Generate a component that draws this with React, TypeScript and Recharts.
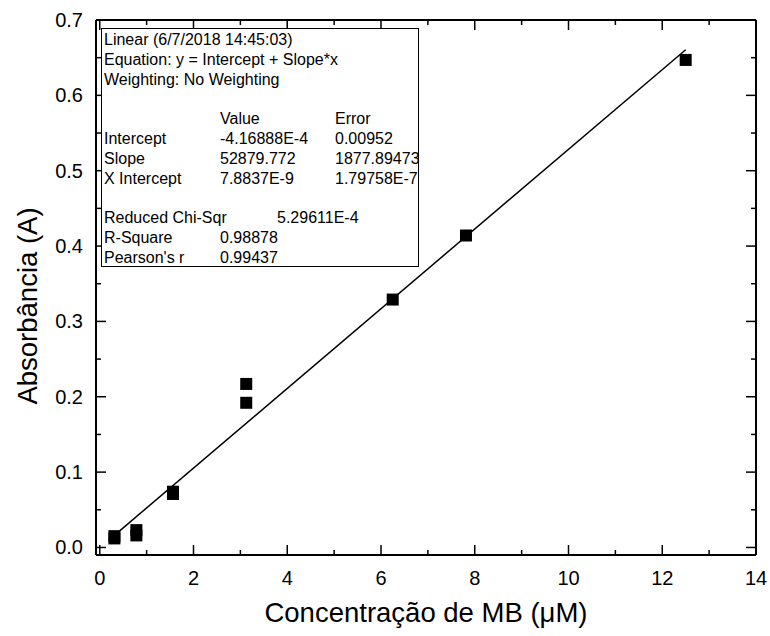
import { ScatterChart, Scatter, XAxis, YAxis, ReferenceLine } from "recharts";

// calibration points: MB concentration (µM) vs absorbance (A)
const concentrations = [0.3125, 0.3125, 0.78125, 0.78125, 1.5625, 1.5625, 3.125, 3.125, 6.25, 7.8125, 12.5];
const absorbances = [0.012, 0.015, 0.016, 0.023, 0.071, 0.074, 0.192, 0.217, 0.329, 0.414, 0.647];

// linear fit reported by the fit table (slope is per M, axis is in µM)
const fitIntercept = -4.16888e-4;
const fitSlopePerM = 52879.772;
const fitRange = [0.3125, 12.5];

const xTicks = [0, 1, 2, 3, 4, 5, 6, 7, 8, 9, 10, 11, 12, 13, 14];
const yTicks = [0, 0.05, 0.1, 0.15, 0.2, 0.25, 0.3, 0.35, 0.4, 0.45, 0.5, 0.55, 0.6, 0.65, 0.7];

const fitHeader = ["Linear (6/7/2018 14:45:03)", "Equation: y = Intercept + Slope*x", "Weighting: No Weighting"];
const fitParams = [
  ["", "Value", "Error"],
  ["Intercept", "-4.16888E-4", "0.00952"],
  ["Slope", "52879.772", "1877.89473"],
  ["X Intercept", "7.8837E-9", "1.79758E-7"],
];
const fitStats = [
  ["Reduced Chi-Sqr", "", "5.29611E-4"],
  ["R-Square", "0.98878", ""],
  ["Pearson's r", "0.99437", ""],
];

const points = concentrations.map((x, i) => ({ x, y: absorbances[i] }));
const fitLine = fitRange.map((x) => ({ x, y: fitIntercept + fitSlopePerM * 1e-6 * x }));

const FONT = "'Liberation Sans', Arial, sans-serif";
const PLOT_W = 660;
const PLOT_H = 535;

function XTick({ x, y, payload }: any) {
  const major = payload.value % 2 === 0;
  const len = major ? 10 : 5;
  return (
    <g>
      <line x1={x} y1={y} x2={x} y2={y - len} stroke="#000" strokeWidth={1.5} />
      <line x1={x} y1={y - PLOT_H} x2={x} y2={y - PLOT_H + len} stroke="#000" strokeWidth={1.5} />
      {major && (
        <text x={x} y={y + 23} textAnchor="middle" dominantBaseline="central" fontSize={20} fontFamily={FONT} fill="#000">
          {payload.value}
        </text>
      )}
    </g>
  );
}

function YTick({ x, y, payload }: any) {
  const major = Math.round(payload.value * 20) % 2 === 0;
  const len = major ? 10 : 5;
  return (
    <g>
      <line x1={x} y1={y} x2={x + len} y2={y} stroke="#000" strokeWidth={1.5} />
      <line x1={x + PLOT_W} y1={y} x2={x + PLOT_W - len} y2={y} stroke="#000" strokeWidth={1.5} />
      {major && (
        <text x={x - 13} y={y} textAnchor="end" dominantBaseline="central" fontSize={20} fontFamily={FONT} fill="#000">
          {payload.value.toFixed(1)}
        </text>
      )}
    </g>
  );
}

const Square = ({ cx, cy }: any) => <rect x={cx - 6} y={cy - 6} width={12} height={12} fill="#000" />;

function FitTable() {
  const rows: string[][] = [
    ...fitHeader.map((t) => [t, "", ""]),
    ["", "", ""],
    ...fitParams,
    ["", "", ""],
    ...fitStats,
  ];
  return (
    <div
      style={{
        position: "absolute",
        left: 101,
        top: 28,
        width: 318,
        height: 239,
        border: "1px solid #000",
        boxSizing: "border-box",
        fontFamily: FONT,
        fontSize: 16,
        color: "#000",
        background: "#fff",
      }}
    >
      {rows.map((r, i) => (
        <div key={i} style={{ position: "absolute", top: 1 + i * 19.8, left: 0, height: 20, lineHeight: "20px", whiteSpace: "nowrap" }}>
          <span style={{ position: "absolute", left: 2 }}>{r[0]}</span>
          <span style={{ position: "absolute", left: 118 }}>{r[1]}</span>
          <span style={{ position: "absolute", left: r[0] === "Reduced Chi-Sqr" ? 175 : 233 }}>{r[2]}</span>
        </div>
      ))}
    </div>
  );
}

export default function App() {
  return (
    <div style={{ position: "absolute", left: 0, top: 0, width: 770, height: 636, background: "#fff" }}>
      <ScatterChart width={770} height={636} margin={{ top: 20, right: 14, bottom: 0, left: 0 }}>
        <XAxis
          type="number"
          dataKey="x"
          domain={[-0.08, 14]}
          ticks={xTicks}
          interval={0}
          height={81}
          tickSize={0}
          tickMargin={0}
          tickLine={false}
          tick={<XTick />}
          axisLine={{ stroke: "#000", strokeWidth: 2 }}
          allowDataOverflow
          label={{
            content: ({ viewBox }: any) => (
              <text x={viewBox.x + viewBox.width / 2} y={viewBox.y + 57} textAnchor="middle" dominantBaseline="central" fontSize={27.5} fontFamily={FONT} fill="#000">
                Concentração de MB (μM)
              </text>
            ),
          }}
        />
        <YAxis
          type="number"
          dataKey="y"
          domain={[-0.01, 0.7]}
          ticks={yTicks}
          interval={0}
          width={96}
          tickSize={0}
          tickMargin={0}
          tickLine={false}
          tick={<YTick />}
          axisLine={{ stroke: "#000", strokeWidth: 2 }}
          allowDataOverflow
          label={{
            content: () => (
              <text x={27} y={306} transform="rotate(-90 27 306)" textAnchor="middle" dominantBaseline="central" fontSize={27.5} fontFamily={FONT} fill="#000">
                Absorbância (A)
              </text>
            ),
          }}
        />
        <ReferenceLine y={0.7} stroke="#000" strokeWidth={2} />
        <ReferenceLine x={14} stroke="#000" strokeWidth={2} />
        <Scatter data={fitLine} line={{ stroke: "#000", strokeWidth: 1.5 }} shape={() => <g />} isAnimationActive={false} />
        <Scatter data={points} shape={<Square />} isAnimationActive={false} />
      </ScatterChart>
      <FitTable />
    </div>
  );
}
